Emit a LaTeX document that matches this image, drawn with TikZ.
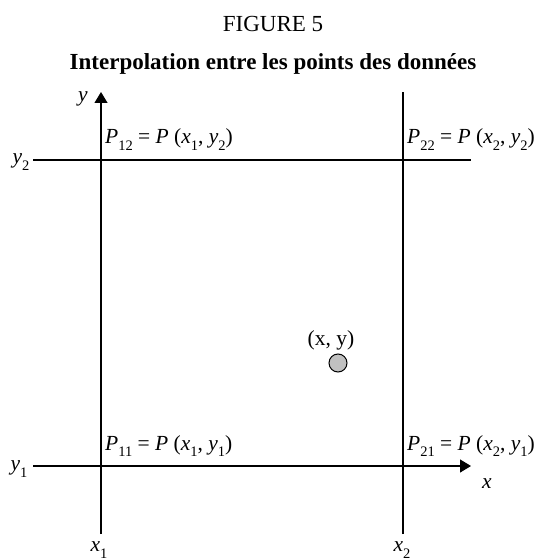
\documentclass[tikz,border=0pt]{standalone}
\usepackage{fontspec}
\setmainfont{Liberation Serif}
\usetikzlibrary{arrows.meta}
\newcommand{\lowidx}[1]{\raisebox{-0.3em}{\fontsize{14.5bp}{15bp}\selectfont #1}}
\newcommand{\ptlabel}[3]{\textit{P}\lowidx{#1} = \textit{P} (\textit{x}\lowidx{#2}, \textit{y}\lowidx{#3})}
\begin{document}
\begin{tikzpicture}[x=1bp,y=-1bp,
  axis/.style={line width=1.2bp},
  axisarrow/.style={line width=1.2bp,-{Triangle[length=11bp,width=13bp]}},
  lbl/.style={inner sep=0pt,font=\fontsize{21.5bp}{24bp}\selectfont},
  ttl/.style={inner sep=0pt,font=\fontsize{23bp}{27bp}\selectfont}]
\useasboundingbox (0,0) rectangle (539,560);
% titles
\node[ttl,anchor=base] (fig) at (273,32) {FIGURE 5};
\node[ttl,anchor=base,font=\fontsize{23bp}{27bp}\selectfont\bfseries] (title) at (273,70) {Interpolation entre les points des données};
% axis coordinates
\coordinate (x1b) at (101,534);
\coordinate (x1t) at (101,92);
\coordinate (x2b) at (403,534);
\coordinate (x2t) at (403,92);
\coordinate (y2l) at (33,160);
\coordinate (y2r) at (471,160);
\coordinate (y1l) at (33,466);
\coordinate (y1r) at (471,466);
\draw[axisarrow] (x1b) -- (x1t);
\draw[axis] (x2b) -- (x2t);
\draw[axis] (y2l) -- (y2r);
\draw[axisarrow] (y1l) -- (y1r);
% axis labels
\node[lbl] (ly) at (83,99) {\textit{y}};
\node[lbl] (lx) at (487,484) {\textit{x}};
\node[lbl] (ly2) at (21,162) {\textit{y}\lowidx{2}};
\node[lbl] (ly1) at (19,469) {\textit{y}\lowidx{1}};
\node[lbl] (lx1) at (99,550) {\textit{x}\lowidx{1}};
\node[lbl] (lx2) at (402,550) {\textit{x}\lowidx{2}};
% point labels
\node[lbl,anchor=base west] (p12) at (105,144) {\ptlabel{12}{1}{2}};
\node[lbl,anchor=base west] (p22) at (407,144) {\ptlabel{22}{2}{2}};
\node[lbl,anchor=base west] (p11) at (105,450) {\ptlabel{11}{1}{1}};
\node[lbl,anchor=base west] (p21) at (407,450) {\ptlabel{21}{2}{1}};
% interior point
\node[lbl,anchor=base] (pxy) at (331,345) {(x, y)};
\node[circle,draw,line width=1bp,fill={rgb,255:red,192;green,192;blue,192},minimum size=18bp,inner sep=0pt] (pt) at (338,363) {};
\end{tikzpicture}
\end{document}
